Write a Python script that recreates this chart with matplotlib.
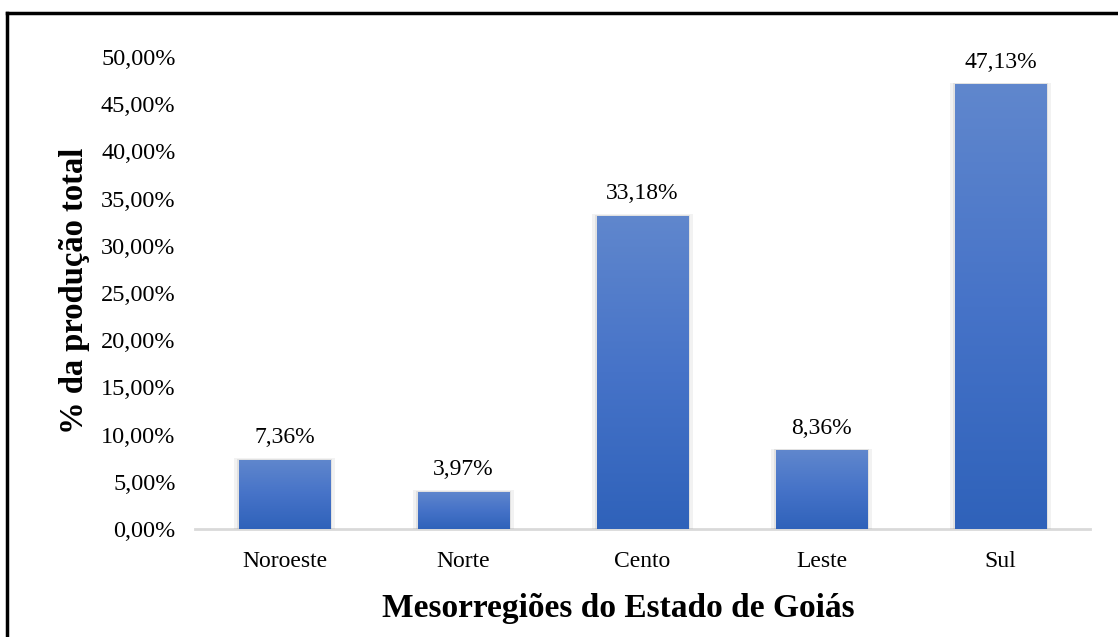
import numpy as np
import matplotlib.pyplot as plt
from matplotlib.colors import LinearSegmentedColormap
from matplotlib.lines import Line2D
from matplotlib.patches import Rectangle

# dados
regioes = ['Noroeste', 'Norte', 'Cento', 'Leste', 'Sul']
producao = [7.36, 3.97, 33.18, 8.36, 47.13]
yticks = [0, 5, 10, 15, 20, 25, 30, 35, 40, 45, 50]

plt.rcParams['font.family'] = ['Liberation Serif', 'DejaVu Serif']

fig = plt.figure(figsize=(11.18, 6.37), dpi=100)
ax = fig.add_axes([0.1744, 0.1695, 0.8006, 0.741])

cmap = LinearSegmentedColormap.from_list('azul', ['#2F62BA', '#4673C8', '#6087CD'])
grad = np.linspace(0, 1, 256).reshape(-1, 1)
largura = 0.51

x = np.arange(len(regioes))
bars = ax.bar(x, producao, width=largura, color='none', zorder=3)
for xi, b, v in zip(x, bars, producao):
    # sombra leve
    for k, a in [(0.025, 0.10), (0.012, 0.14)]:
        ax.add_patch(Rectangle((xi - largura / 2 - k, 0), largura + 2 * k, v + k * 6,
                               color='#808080', alpha=a, lw=0, zorder=2))
    im = ax.imshow(grad, extent=(xi - largura / 2, xi + largura / 2, 0, v),
                   origin='lower', cmap=cmap, aspect='auto', zorder=3)
    im.set_clip_path(b)
    ax.text(xi, v + 1.2, f'{v:.2f}%'.replace('.', ','), ha='center', va='bottom',
            fontsize=17)

ax.set_xlim(-0.5, len(regioes) - 0.5)
ax.set_ylim(0, 50)
ax.set_yticks(yticks)
ax.set_yticklabels([f'{t:.2f}%'.replace('.', ',') for t in yticks], fontsize=17.5)
ax.set_xticks(x)
ax.set_xticklabels(regioes, fontsize=17)
ax.tick_params(axis='y', length=0, pad=14)
ax.tick_params(axis='x', length=0, pad=16)

for s in ['top', 'right', 'left']:
    ax.spines[s].set_visible(False)
ax.spines['bottom'].set_color('#D9D9D9')
ax.spines['bottom'].set_linewidth(2)
ax.spines['bottom'].set_zorder(1)

fig.text(75 / 1118, 1 - 291 / 637, '% da produção total', rotation=90, ha='center',
         va='center', fontsize=23.5, fontweight='bold')
fig.text(618 / 1118, 1 - 608 / 637, 'Mesorregiões do Estado de Goiás', ha='center',
         va='center', fontsize=24, fontweight='bold')

# moldura
fig.add_artist(Line2D([7 / 1118, 1.0], [1 - 13 / 637, 1 - 13 / 637], color='black', lw=2.5))
fig.add_artist(Line2D([7 / 1118, 7 / 1118], [0, 1 - 13 / 637], color='black', lw=2.5))

plt.savefig('out.png', dpi=100)
